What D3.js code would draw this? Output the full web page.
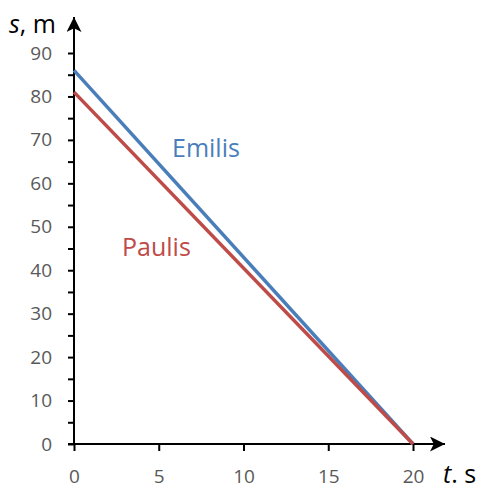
<!DOCTYPE html>
<html lang="lt">
<head>
<meta charset="utf-8">
<title>s(t)</title>
<script src="https://d3js.org/d3.v7.min.js"></script>
<style>
  body { margin: 0; background: #fff; font-family: "Open Sans", "Liberation Sans", sans-serif; }
  .tick text { fill: #595959; font-size: 19px; font-family: "Open Sans", sans-serif; }
  .tick line { stroke: #000; stroke-width: 2px; }
</style>
</head>
<body>
<div id="viz"></div>
<script>
  // data
  var times = [0, 20];
  var emilis = [86, 0];
  var paulis = [81, 0];
  var xTicks = [0, 5, 10, 15, 20];
  var yTicks = [0, 10, 20, 30, 40, 50, 60, 70, 80, 90];
  var yMinor = [5, 15, 25, 35, 45, 55, 65, 75, 85];

  var W = 480, H = 483;
  var x = d3.scaleLinear().domain([0, 20]).range([74, 413]);
  var y = d3.scaleLinear().domain([0, 90]).range([444, 53]);

  var svg = d3.select("#viz").append("svg")
    .attr("width", W).attr("height", H);

  svg.append("defs").append("marker")
    .attr("id", "arr").attr("viewBox", "0 0 10 10")
    .attr("refX", 10).attr("refY", 5)
    .attr("markerWidth", 16).attr("markerHeight", 15)
    .attr("markerUnits", "userSpaceOnUse")
    .attr("orient", "auto")
    .append("path").attr("d", "M0,0 L10,5 L0,10 L2.5,5 Z").attr("fill", "#000");

  // minor ticks on y
  svg.append("g")
    .attr("transform", "translate(74,0)")
    .call(d3.axisLeft(y).tickValues(yMinor).tickSize(6).tickFormat(""))
    .call(function(g) { g.select(".domain").remove(); });

  svg.append("g")
    .attr("transform", "translate(74,0)")
    .call(d3.axisLeft(y).tickValues(yTicks).tickSize(6).tickPadding(16))
    .call(function(g) { g.select(".domain").remove(); });

  svg.append("g")
    .attr("transform", "translate(0,444)")
    .call(d3.axisBottom(x).tickValues(xTicks).tickSize(7).tickPadding(19))
    .call(function(g) { g.select(".domain").remove(); });

  // axis lines with arrows
  svg.append("line")
    .attr("x1", 74).attr("y1", 444).attr("x2", 74).attr("y2", 17)
    .attr("stroke", "#000").attr("stroke-width", 2)
    .attr("marker-end", "url(#arr)");
  svg.append("line")
    .attr("x1", 68).attr("y1", 444).attr("x2", 445).attr("y2", 444)
    .attr("stroke", "#000").attr("stroke-width", 2)
    .attr("marker-end", "url(#arr)");

  var line = d3.line()
    .x(function(d) { return x(d[0]); })
    .y(function(d) { return y(d[1]); });

  svg.append("path")
    .datum(d3.zip(times, emilis))
    .attr("d", line)
    .attr("fill", "none").attr("stroke", "#4a7ebb").attr("stroke-width", 3.5);
  svg.append("path")
    .datum(d3.zip(times, paulis))
    .attr("d", line)
    .attr("fill", "none").attr("stroke", "#be4b48").attr("stroke-width", 3.5);

  svg.append("text")
    .attr("x", 172).attr("y", 157)
    .attr("fill", "#4a7ebb").attr("font-size", 25)
    .text("Emilis");
  svg.append("text")
    .attr("x", 122).attr("y", 256)
    .attr("fill", "#be4b48").attr("font-size", 25)
    .text("Paulis");

  var ty = svg.append("text")
    .attr("x", 9).attr("y", 33).attr("font-size", 25).attr("fill", "#000");
  ty.append("tspan").attr("font-style", "italic").text("s");
  ty.append("tspan").text(", m");

  var tx = svg.append("text")
    .attr("x", 443).attr("y", 483).attr("font-size", 25).attr("fill", "#000");
  tx.append("tspan").attr("font-style", "italic").text("t");
  tx.append("tspan").text(". s");
</script>
</body>
</html>
